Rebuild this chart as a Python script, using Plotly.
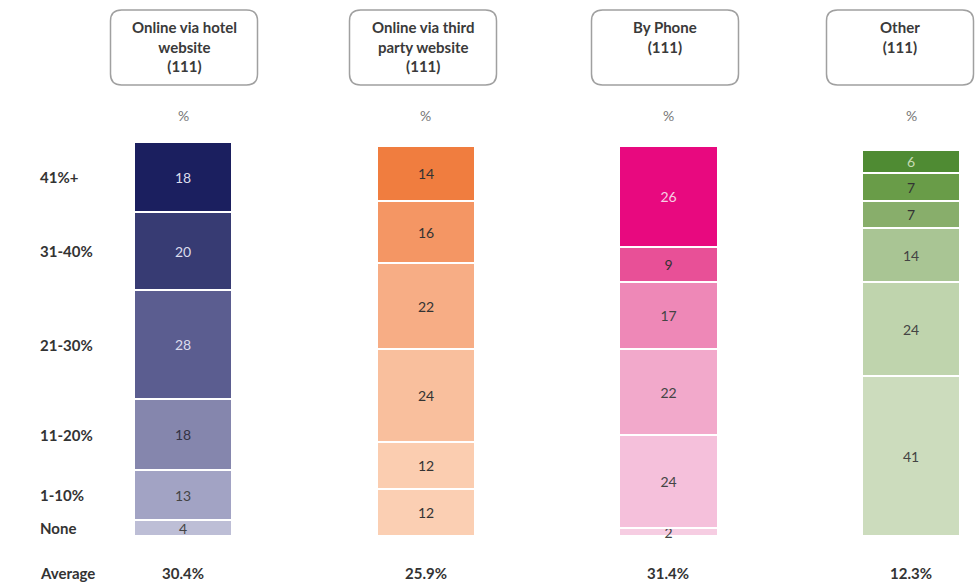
import plotly.graph_objects as go

# ---------------- data ----------------
categories = ["None", "1-10%", "11-20%", "21-30%", "31-40%", "41%+"]  # bottom -> top
channels = ["Online via hotel<br>website<br>(111)",
            "Online via third<br>party website<br>(111)",
            "By Phone<br>(111)",
            "Other<br>(111)"]
hotel = [4, 13, 18, 28, 20, 18]
third_party = [12, 12, 24, 22, 16, 14]
phone = [2, 24, 22, 17, 9, 26]
other = [41, 24, 14, 7, 7, 6]
averages = ["30.4%", "25.9%", "31.4%", "12.3%"]

series = [hotel, third_party, phone, other]

# colours per channel, bottom -> top
colors = [
    ["#bdbed6", "#a2a3c4", "#8586ad", "#5b5d90", "#373b73", "#1b1f5f"],
    ["#fbcfb3", "#fbcdb0", "#f9bf9d", "#f7ad85", "#f49664", "#f07d3f"],
    ["#f6cde2", "#f5c0db", "#f2a9cb", "#ee88b7", "#e85097", "#e8097f"],
    ["#ccdcbd", "#bfd4ad", "#a9c594", "#88ae6b", "#699c48", "#4f8b33"],
]
text_colors = [
    ["#444444", "#444444", "#333344", "#dcdcec", "#dcdcec", "#dcdcec"],
    ["#333333"] * 6,
    ["#444444", "#444444", "#444444", "#444444", "#333333", "#f6d0e4"],
    ["#444444", "#444444", "#444444", "#333333", "#333333", "#c6dcb4"],
]

W, H = 978, 584
PLOT_TOP, PLOT_BOTTOM = 142, 536
x_pos = [0, 1, 2, 3]
FONT = "Lato, Open Sans, sans-serif"

fig = go.Figure()
for i, cat in enumerate(categories):
    fig.add_trace(go.Bar(
        x=x_pos,
        y=[s[i] for s in series],
        name=cat,
        width=0.405,
        marker=dict(color=[c[i] for c in colors],
                    line=dict(color="white", width=2)),
        text=[str(s[i]) for s in series],
        textposition="inside",
        insidetextanchor="middle",
        textangle=0,
        cliponaxis=(i != 0),
        textfont=dict(family=FONT, size=14,
                      color=[t[i] for t in text_colors]),
        hoverinfo="skip",
    ))


def py(p):
    """pixel y -> paper y"""
    return (PLOT_BOTTOM - p) / (PLOT_BOTTOM - PLOT_TOP)


def px(p):
    return p / W


annotations = []
shapes = []

# header boxes
box_centers = [184, 423, 665, 900]
box_w, box_top, box_bot = 147, 10, 85
r = 11
for bc, label in zip(box_centers, channels):
    x0, x1 = bc - box_w / 2, bc + box_w / 2
    y0, y1 = box_top, box_bot
    pts = (f"M {px(x0 + r)} {py(y0)} L {px(x1 - r)} {py(y0)} "
           f"Q {px(x1)} {py(y0)} {px(x1)} {py(y0 + r)} "
           f"L {px(x1)} {py(y1 - r)} Q {px(x1)} {py(y1)} {px(x1 - r)} {py(y1)} "
           f"L {px(x0 + r)} {py(y1)} Q {px(x0)} {py(y1)} {px(x0)} {py(y1 - r)} "
           f"L {px(x0)} {py(y0 + r)} Q {px(x0)} {py(y0)} {px(x0 + r)} {py(y0)} Z")
    shapes.append(dict(type="path", xref="paper", yref="paper", path=pts,
                       line=dict(color="#a0a0a0", width=1.5), fillcolor="white",
                       layer="below"))
    annotations.append(dict(x=px(bc), y=py(16), xref="paper", yref="paper",
                            text=f"<b>{label}</b>", showarrow=False,
                            xanchor="center", yanchor="top",
                            font=dict(family=FONT, size=15, color="#3a3a3a")))

# "%" labels and averages
for xi, avg in zip(x_pos, averages):
    annotations.append(dict(x=xi, y=py(115), xref="x", yref="paper", text="%",
                            showarrow=False, xanchor="center", yanchor="middle",
                            font=dict(family=FONT, size=14, color="#777777")))
    annotations.append(dict(x=xi, y=py(573), xref="x", yref="paper",
                            text=f"<b>{avg}</b>", showarrow=False,
                            xanchor="center", yanchor="middle",
                            font=dict(family=FONT, size=15, color="#333333")))

# row labels aligned to first bar's segment centres
cum = 0
for cat, v in zip(categories, hotel):
    centre = cum + v / 2
    cum += v
    annotations.append(dict(x=px(38), y=centre, xref="paper", yref="y",
                            text=f"<b>{cat}</b>", showarrow=False,
                            xanchor="left", yanchor="middle",
                            font=dict(family=FONT, size=15, color="#333333")))
annotations.append(dict(x=px(38), y=py(573), xref="paper", yref="paper",
                        text="<b>Average</b>", showarrow=False,
                        xanchor="left", yanchor="middle",
                        font=dict(family=FONT, size=15, color="#333333")))

# x mapping: centre px = 183 + 242.7 * x
x_lo = (0 - 183) / 242.7
x_hi = (W - 183) / 242.7

fig.update_layout(
    width=W, height=H,
    barmode="stack",
    bargap=0,
    showlegend=False,
    paper_bgcolor="white",
    plot_bgcolor="white",
    margin=dict(l=0, r=0, t=PLOT_TOP, b=H - PLOT_BOTTOM, pad=0),
    xaxis=dict(range=[x_lo, x_hi], visible=False, fixedrange=True),
    yaxis=dict(range=[0, 101], visible=False, fixedrange=True),
    uniformtext=dict(minsize=12, mode="show"),
    annotations=annotations,
    shapes=shapes,
)

fig.write_html("out.html",
               config={"displayModeBar": False},
               post_script="document.body.style.margin='0';"
                           "document.body.style.overflow='hidden';")
